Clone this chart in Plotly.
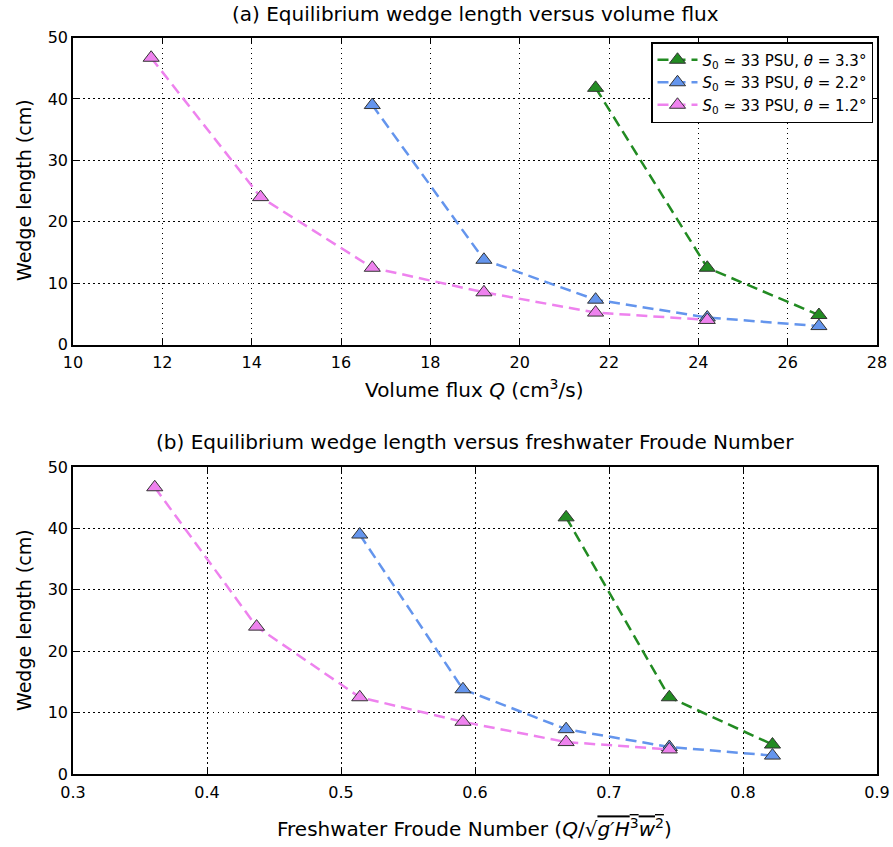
import plotly.graph_objects as go

# Data
q_pink = [11.75, 14.2, 16.7, 19.2, 21.7, 24.2]
l_pink = [46.7, 24.0, 12.5, 8.5, 5.2, 4.0]
q_blue = [16.7, 19.2, 21.7, 24.2, 26.7]
l_blue = [39.0, 13.8, 7.3, 4.4, 3.0]
q_green = [21.7, 24.2, 26.7]
l_green = [41.8, 12.5, 4.8]

fr_pink = [0.361, 0.437, 0.514, 0.591, 0.668, 0.745]
fr_blue = [0.514, 0.591, 0.668, 0.745, 0.822]
fr_green = [0.668, 0.745, 0.822]

names = ["<i>S</i><sub>0</sub> ≃ 33 PSU, <i>θ</i> = 3.3°",
         "<i>S</i><sub>0</sub> ≃ 33 PSU, <i>θ</i> = 2.2°",
         "<i>S</i><sub>0</sub> ≃ 33 PSU, <i>θ</i> = 1.2°"]
colors = ["#228B22", "#6495ED", "#EE82EE"]

W, H = 893, 847
def fx(px): return px / W
def fy(py): return 1 - py / H

fig = go.Figure()

series_top = [(q_green, l_green), (q_blue, l_blue), (q_pink, l_pink)]
series_bot = [(fr_green, l_green), (fr_blue, l_blue), (fr_pink, l_pink)]

for i, (x, y) in enumerate(series_top):
    fig.add_trace(go.Scatter(x=x, y=y, mode="lines+markers", name=names[i],
                             line=dict(color=colors[i], width=2.5, dash="11px,6px"),
                             marker=dict(symbol="triangle-up", size=14, color=colors[i],
                                         line=dict(color="#333333", width=1)),
                             xaxis="x", yaxis="y", showlegend=True))
for i, (x, y) in enumerate(series_bot):
    fig.add_trace(go.Scatter(x=x, y=y, mode="lines+markers", name=names[i],
                             line=dict(color=colors[i], width=2.5, dash="11px,6px"),
                             marker=dict(symbol="triangle-up", size=14, color=colors[i],
                                         line=dict(color="#333333", width=1)),
                             xaxis="x2", yaxis="y2", showlegend=False))

axis_common = dict(showline=True, linecolor="black", linewidth=1.5, mirror="allticks",
                   ticks="inside", ticklen=6, tickcolor="black", automargin=False,
                   showgrid=True, gridcolor="black", griddash="1.5px,3.5px", gridwidth=1,
                   zeroline=False, tickfont=dict(family="DejaVu Sans", size=16, color="black"))

fig.update_layout(
    template="none",
    width=W, height=H, margin=dict(l=0, r=0, t=0, b=0, autoexpand=False),
    paper_bgcolor="white", plot_bgcolor="white",
    font=dict(family="DejaVu Sans", color="black"),
    xaxis=dict(axis_common, domain=[fx(73), fx(877)], range=[10, 28], dtick=2, anchor="y",
               ticklabelstandoff=3),
    yaxis=dict(axis_common, domain=[fy(344.5), fy(37.5)], range=[0, 50], dtick=10, anchor="x"),
    xaxis2=dict(axis_common, domain=[fx(73), fx(877)], range=[0.3, 0.9], dtick=0.1, anchor="y2",
                tickformat=".1f", ticklabelstandoff=3),
    yaxis2=dict(axis_common, domain=[fy(774), fy(467)], range=[0, 50], dtick=10, anchor="x2"),
    legend=dict(x=fx(873), y=fy(42), xanchor="right", yanchor="top",
                bgcolor="white", bordercolor="black", borderwidth=1.5,
                font=dict(family="DejaVu Sans", size=15, color="black"),
                tracegroupgap=0, itemwidth=40),
    showlegend=True,
)

ann = [
    dict(text="(a) Equilibrium wedge length versus volume flux", x=fx(475), y=fy(14), size=20),
    dict(text="(b) Equilibrium wedge length versus freshwater Froude Number", x=fx(475), y=fy(442), size=20),
    dict(text="Volume flux <i>Q</i> (cm<sup>3</sup>/s)", x=fx(474), y=fy(389), size=20),
    dict(text="Freshwater Froude Number (<i>Q</i>/√<span style='text-decoration:overline'><i>g′H</i><sup>3</sup><i>w</i><sup>2</sup></span>)",
         x=fx(474), y=fy(828), size=20),
]
for a in ann:
    fig.add_annotation(text=a["text"], x=a["x"], y=a["y"], xref="paper", yref="paper",
                       showarrow=False, xanchor="center", yanchor="middle",
                       font=dict(family="DejaVu Sans", size=a["size"], color="black"))
for yc in [190, 620]:
    fig.add_annotation(text="Wedge length (cm)", x=fx(24), y=fy(yc), xref="paper", yref="paper",
                       showarrow=False, textangle=-90, xanchor="center", yanchor="middle",
                       font=dict(family="DejaVu Sans", size=19, color="black"))

fig.write_html("out.html")
